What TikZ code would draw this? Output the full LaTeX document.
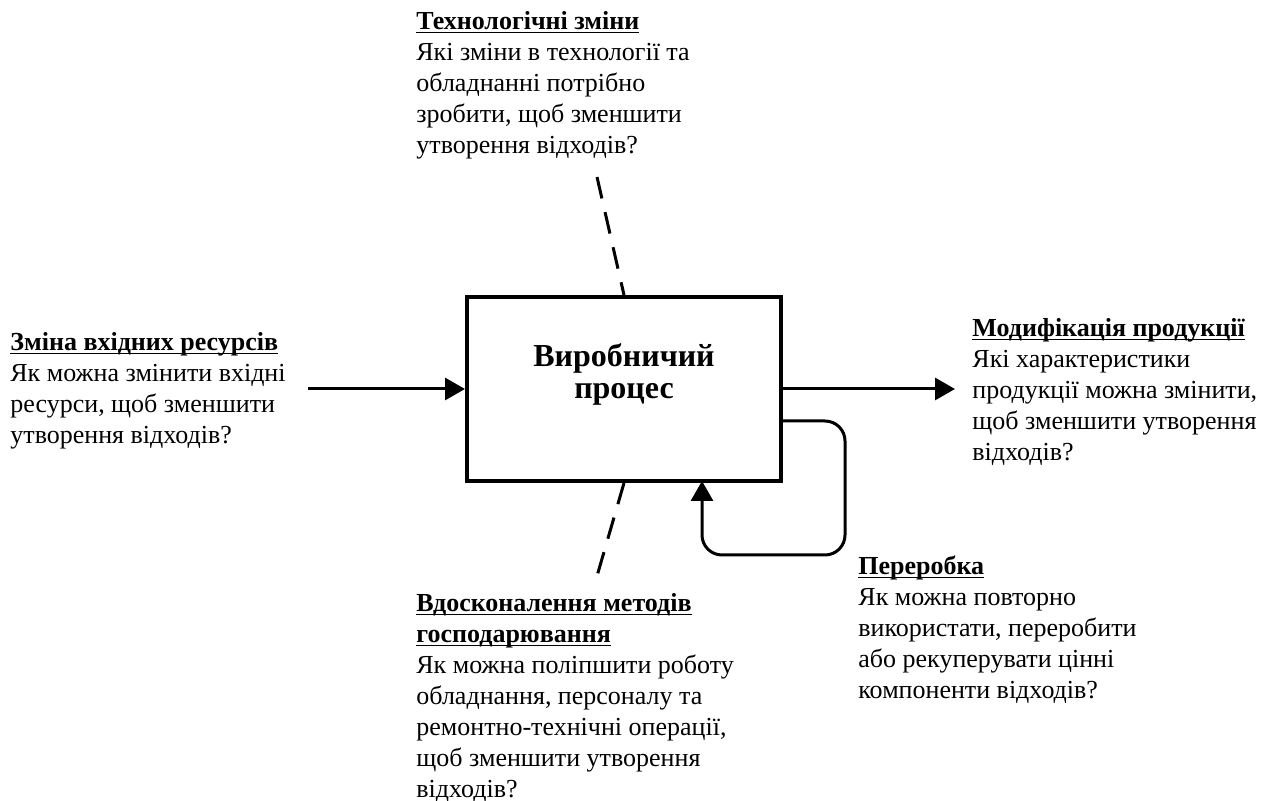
\documentclass[tikz,border=0pt]{standalone}
\usepackage{amsmath}
\usepackage{fontspec}
\setmainfont{Liberation Serif}
\usetikzlibrary{arrows.meta}

\newcommand{\ulhead}[1]{\underline{\smash[b]{\textbf{#1}}}}

\begin{document}
\begin{tikzpicture}[x=0.5pt, y=-0.5pt,
	note/.style={anchor=north west, inner sep=0pt, align=left,
		font=\fontsize{13}{15.5}\selectfont},
	flow/.style={line width=1.5pt, -{Triangle[length=10pt,width=11pt]}},
	hint/.style={line width=1.5pt, dash pattern=on 11pt off 7pt}
]
\useasboundingbox (0,0) rectangle (1274,801);

% Production process
\node [draw,
	line width=2pt,
	minimum width=157pt,
	minimum height=92pt
] (process) at (624,389) {};
\node [align=center,
	inner sep=0pt,
	font=\fontsize{16}{16}\selectfont\bfseries
] (process_label) at (624,374) {Виробничий\\процес};

% Technology changes
\node [note] (technology) at (416,11) {\ulhead{Технологічні зміни}\\
Які зміни в технології та\\
обладнанні потрібно\\
зробити, щоб зменшити\\
утворення відходів?};
\coordinate (technology_end) at (597,177);

% Input changes
\node [note] (inputs) at (10,332) {\ulhead{Зміна вхідних ресурсів}\\
Як можна змінити вхідні\\
ресурси, щоб зменшити\\
утворення відходів?};
\coordinate (inputs_end) at (308,389);

% Product modification
\node [note] (product) at (972,318) {\ulhead{Модифікація продукції}\\
Які характеристики\\
продукції можна змінити,\\
щоб зменшити утворення\\
відходів?};
\coordinate (product_end) at (955,389);

% Recycling
\node [note] (recycling) at (858,555) {\ulhead{Переробка}\\
Як можна повторно\\
використати, переробити\\
або рекуперувати цінні\\
компоненти відходів?};
\coordinate (loop_out) at (781,421);
\coordinate (loop_in) at (702,481);

% Good operating practice
\node [note] (practice) at (416,593) {\ulhead{Вдосконалення методів}\\
\ulhead{господарювання}\\
Як можна поліпшити роботу\\
обладнання, персоналу та\\
ремонтно-технічні операції,\\
щоб зменшити утворення\\
відходів?};
\coordinate (practice_end) at (595,583);

% Connectors
\draw[flow] (inputs_end) -- (process.west);
\draw[flow] (process.east) -- (product_end);
\draw[hint] (technology_end) -- (process.north);
\draw[hint] (process.south) -- (practice_end);
\draw[flow, rounded corners=10pt] (loop_out) -- (845,421) -- (845,555) -- (702,555) -- (loop_in);

\end{tikzpicture}
\end{document}
